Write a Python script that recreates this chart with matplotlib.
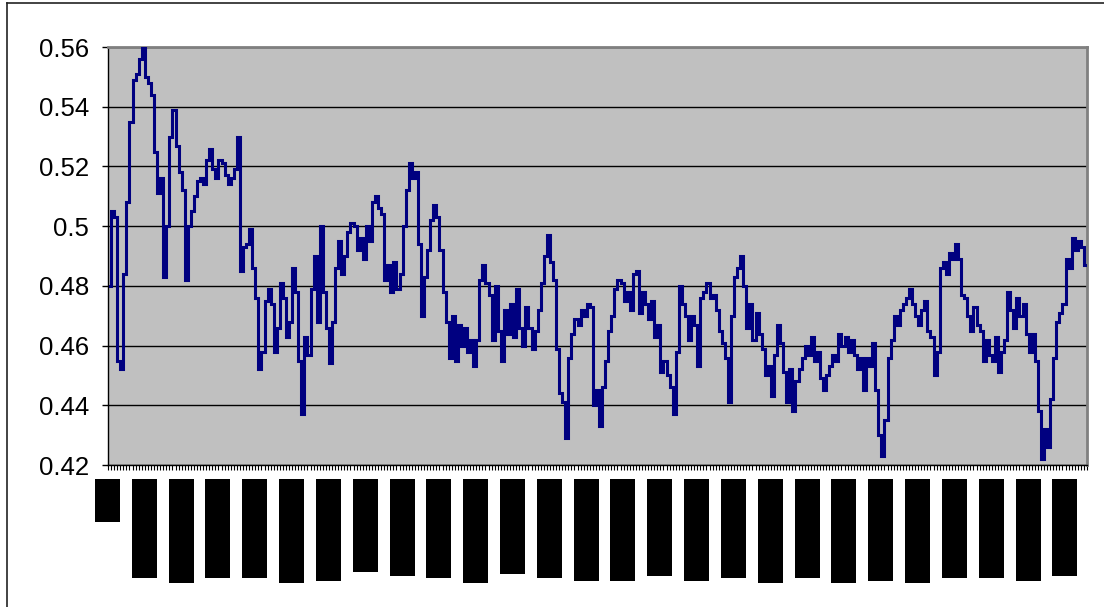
import matplotlib
matplotlib.use("Agg")
import matplotlib.pyplot as plt
from matplotlib.lines import Line2D
import numpy as np

# ---- data ----
values = [
    0.480, 0.505, 0.503, 0.455, 0.452, 0.484, 0.508, 0.535, 0.549, 0.551,
    0.556, 0.560, 0.550, 0.548, 0.544, 0.525, 0.511, 0.516, 0.483, 0.500,
    0.530, 0.539, 0.527, 0.518, 0.512, 0.482, 0.500, 0.505, 0.510, 0.515,
    0.516, 0.514, 0.522, 0.526, 0.519, 0.516, 0.522, 0.521, 0.517, 0.514,
    0.516, 0.519, 0.530, 0.485, 0.493, 0.494, 0.499, 0.486, 0.476, 0.452,
    0.458, 0.475, 0.479, 0.474, 0.458, 0.466, 0.481, 0.476, 0.463, 0.468,
    0.486, 0.478, 0.455, 0.437, 0.463, 0.457, 0.479, 0.490, 0.468, 0.500,
    0.478, 0.466, 0.454, 0.468, 0.486, 0.495, 0.484, 0.490, 0.498, 0.501,
    0.500, 0.492, 0.496, 0.489, 0.500, 0.495, 0.508, 0.510, 0.506, 0.504,
    0.482, 0.487, 0.478, 0.488, 0.479, 0.484, 0.500, 0.512, 0.521, 0.516,
    0.518, 0.494, 0.470, 0.483, 0.492, 0.502, 0.507, 0.503, 0.492, 0.478,
    0.468, 0.456, 0.470, 0.455, 0.467, 0.460, 0.466, 0.458, 0.462, 0.453,
    0.462, 0.482, 0.487, 0.481, 0.477, 0.462, 0.480, 0.465, 0.455, 0.472,
    0.464, 0.474, 0.463, 0.479, 0.466, 0.460, 0.473, 0.466, 0.459, 0.465,
    0.472, 0.481, 0.490, 0.497, 0.488, 0.482, 0.459, 0.444, 0.441, 0.429,
    0.456, 0.464, 0.469, 0.467, 0.472, 0.470, 0.474, 0.473, 0.440, 0.445,
    0.433, 0.446, 0.455, 0.465, 0.470, 0.479, 0.482, 0.481, 0.475, 0.478,
    0.472, 0.484, 0.485, 0.471, 0.478, 0.474, 0.469, 0.475, 0.463, 0.467,
    0.451, 0.455, 0.450, 0.446, 0.437, 0.458, 0.480, 0.474, 0.470, 0.462,
    0.470, 0.467, 0.453, 0.476, 0.478, 0.481, 0.476, 0.477, 0.472, 0.465,
    0.461, 0.456, 0.441, 0.470, 0.483, 0.486, 0.490, 0.480, 0.466, 0.474,
    0.462, 0.471, 0.464, 0.459, 0.450, 0.453, 0.443, 0.457, 0.467, 0.461,
    0.451, 0.441, 0.452, 0.438, 0.448, 0.452, 0.456, 0.460, 0.457, 0.463,
    0.455, 0.458, 0.449, 0.445, 0.450, 0.453, 0.457, 0.455, 0.464, 0.460,
    0.463, 0.458, 0.462, 0.457, 0.452, 0.456, 0.445, 0.456, 0.453, 0.461,
    0.445, 0.430, 0.423, 0.435, 0.456, 0.462, 0.470, 0.467, 0.472, 0.474,
    0.476, 0.479, 0.474, 0.470, 0.467, 0.472, 0.475, 0.465, 0.463, 0.450,
    0.458, 0.486, 0.488, 0.484, 0.491, 0.489, 0.494, 0.489, 0.477, 0.476,
    0.470, 0.465, 0.473, 0.467, 0.465, 0.455, 0.462, 0.457, 0.455, 0.463,
    0.451, 0.458, 0.462, 0.478, 0.472, 0.466, 0.476, 0.470, 0.474, 0.464,
    0.458, 0.464, 0.455, 0.438, 0.422, 0.432, 0.426, 0.442, 0.456, 0.468,
    0.471, 0.474, 0.489, 0.486, 0.496, 0.492, 0.495, 0.493, 0.487,
]
y_ticks = [0.42, 0.44, 0.46, 0.48, 0.50, 0.52, 0.54, 0.56]
y_labels = ["0.42", "0.44", "0.46", "0.48", "0.5", "0.52", "0.54", "0.56"]
label_every = 12
# category labels appear as solid black blocks; their (pixel) lengths
label_lengths = [43, 99, 104, 99, 99, 104, 102, 93, 97, 99, 104, 95, 99,
                 102, 102, 97, 102, 99, 104, 99, 104, 102, 104, 99, 99, 102, 97]

# ---- figure ----
W, H = 1104, 607
fig = plt.figure(figsize=(W / 100, H / 100), dpi=100)
fig.patch.set_facecolor("white")

ax = fig.add_axes([108 / W, 1 - 465 / H, 979 / W, 418 / H])
n = len(values)
cats = np.arange(n)
ax.plot(cats, values, color="#000080", lw=2.2, zorder=3, drawstyle="steps-mid",
        solid_joinstyle="miter")
ax.set_xlim(-0.5, n - 0.5)
ax.set_ylim(0.42, 0.56)
ax.set_facecolor("#C0C0C0")

ax.set_yticks(y_ticks)
ax.set_yticklabels(y_labels, fontsize=18.5, family="Liberation Sans")
ax.set_xticks(np.arange(n + 1) - 0.5)
ax.set_xticklabels([])
ax.tick_params(axis="x", length=3.5, width=0.8, direction="out", color="black")
ax.tick_params(axis="y", length=4.5, width=1.0, direction="out", pad=9, color="black")
ax.yaxis.grid(True, color="#000000", lw=1.0)
ax.set_axisbelow(True)

for s in ("left", "bottom"):
    ax.spines[s].set_color("black")
    ax.spines[s].set_linewidth(1.0)
for s in ("top", "right"):
    ax.spines[s].set_color("#808080")
    ax.spines[s].set_linewidth(2.0)

# label blocks below the axis
axl = fig.add_axes([108 / W, 1 - 589 / H, 979 / W, 110 / H])
label_pos = cats[::label_every][: len(label_lengths)]
bars = axl.bar(label_pos - 0.7, label_lengths, width=8.15, color="black", align="center")
for b in bars:
    b.set_clip_on(False)
axl.set_xlim(-0.5, n - 0.5)
axl.set_ylim(110, 0)
axl.axis("off")

# outer chart border (left and top visible)
fig.add_artist(Line2D([7 / W, 7 / W], [0, 1 - 3 / H], transform=fig.transFigure,
                      color="#222222", lw=1.2))
fig.add_artist(Line2D([7 / W, 1], [1 - 3 / H, 1 - 3 / H], transform=fig.transFigure,
                      color="#222222", lw=1.2))

fig.savefig("out.png", dpi=100)
